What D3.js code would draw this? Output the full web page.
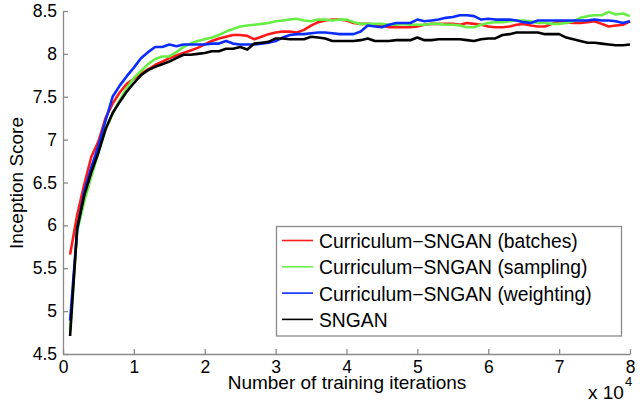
<!DOCTYPE html>
<html>
<head>
<meta charset="utf-8">
<script src="https://cdn.jsdelivr.net/npm/d3@7"></script>
<style>
  body { margin: 0; background: #fff; }
  svg { font-family: "Liberation Sans", Arial, Helvetica, sans-serif; }
</style>
</head>
<body>
<div id="main"></div>
<script>
const ctx = {
    SVG_W: 640,
    SVG_H: 402,
    left: 63, right: 630, top: 11, bottom: 354,
};

// training iterations (x 10^4), one sample every 1000 iterations
const iterations = d3.range(1, 81).map(k => k / 10);

const seriesNames = [
    "Curriculum\u2212SNGAN (batches)",
    "Curriculum\u2212SNGAN (sampling)",
    "Curriculum\u2212SNGAN (weighting)",
    "SNGAN",
];
const seriesColors = ["#ff1a1a", "#66ee44", "#0a2cff", "#000000"];

const batches = [
    5.66, 6.12, 6.48, 6.80, 6.98, 7.25, 7.42, 7.55, 7.65, 7.71,
    7.77, 7.82, 7.87, 7.91, 7.95, 7.98, 8.01, 8.04, 8.07, 8.11,
    8.15, 8.18, 8.20, 8.22, 8.22, 8.21, 8.17, 8.20, 8.23, 8.25,
    8.26, 8.26, 8.25, 8.28, 8.33, 8.37, 8.39, 8.40, 8.40, 8.39,
    8.36, 8.35, 8.35, 8.34, 8.33, 8.31, 8.31, 8.31, 8.31, 8.32,
    8.34, 8.35, 8.35, 8.35, 8.35, 8.34, 8.36, 8.35, 8.34, 8.32,
    8.31, 8.31, 8.32, 8.34, 8.35, 8.33, 8.32, 8.32, 8.35, 8.38,
    8.37, 8.36, 8.36, 8.37, 8.38, 8.35, 8.32, 8.33, 8.34, 8.38,
];
const sampling = [
    4.78, 5.93, 6.28, 6.57, 6.85, 7.12, 7.30, 7.46, 7.60, 7.72,
    7.80, 7.88, 7.94, 7.97, 7.97, 8.02, 8.08, 8.12, 8.15, 8.17,
    8.19, 8.22, 8.26, 8.29, 8.32, 8.33, 8.34, 8.35, 8.36, 8.38,
    8.39, 8.40, 8.41, 8.39, 8.38, 8.40, 8.40, 8.39, 8.40, 8.40,
    8.37, 8.35, 8.35, 8.35, 8.35, 8.34, 8.34, 8.35, 8.34, 8.34,
    8.34, 8.35, 8.35, 8.34, 8.34, 8.33, 8.31, 8.31, 8.34, 8.36,
    8.37, 8.37, 8.38, 8.39, 8.39, 8.38, 8.36, 8.36, 8.35, 8.35,
    8.36, 8.38, 8.42, 8.44, 8.45, 8.45, 8.49, 8.46, 8.47, 8.44,
];
const weighting = [
    4.89, 5.95, 6.40, 6.68, 6.93, 7.22, 7.50, 7.63, 7.74, 7.84,
    7.95, 8.02, 8.08, 8.08, 8.11, 8.09, 8.11, 8.11, 8.11, 8.11,
    8.12, 8.12, 8.15, 8.12, 8.11, 8.11, 8.11, 8.12, 8.13, 8.15,
    8.19, 8.22, 8.23, 8.23, 8.24, 8.25, 8.25, 8.24, 8.23, 8.23,
    8.23, 8.26, 8.33, 8.32, 8.31, 8.34, 8.36, 8.36, 8.36, 8.40,
    8.38, 8.39, 8.40, 8.42, 8.43, 8.45, 8.45, 8.44, 8.40, 8.41,
    8.40, 8.40, 8.40, 8.39, 8.37, 8.36, 8.39, 8.39, 8.39, 8.39,
    8.39, 8.39, 8.39, 8.39, 8.40, 8.39, 8.39, 8.38, 8.36, 8.38,
];
const sngan = [
    4.71, 5.97, 6.35, 6.62, 6.85, 7.12, 7.31, 7.44, 7.56, 7.66,
    7.75, 7.81, 7.85, 7.88, 7.91, 7.95, 7.99, 7.99, 8.00, 8.01,
    8.03, 8.03, 8.06, 8.06, 8.08, 8.05, 8.12, 8.13, 8.14, 8.18,
    8.18, 8.17, 8.17, 8.17, 8.20, 8.19, 8.18, 8.15, 8.15, 8.15,
    8.15, 8.16, 8.18, 8.15, 8.15, 8.15, 8.16, 8.16, 8.16, 8.19,
    8.16, 8.16, 8.17, 8.17, 8.17, 8.17, 8.16, 8.15, 8.17, 8.18,
    8.18, 8.22, 8.23, 8.25, 8.25, 8.25, 8.25, 8.23, 8.23, 8.23,
    8.19, 8.17, 8.15, 8.13, 8.13, 8.12, 8.11, 8.10, 8.10, 8.11,
];
const seriesValues = [batches, sampling, weighting, sngan];

const xTicks = [0, 1, 2, 3, 4, 5, 6, 7, 8];
const yTicks = [4.5, 5, 5.5, 6, 6.5, 7, 7.5, 8, 8.5];

function createViz() {
    let svgEl = d3.select("#main").append("svg")
        .attr("width", ctx.SVG_W)
        .attr("height", ctx.SVG_H);

    let x = d3.scaleLinear().domain([0, 8]).range([ctx.left, ctx.right]);
    let y = d3.scaleLinear().domain([4.5, 8.5]).range([ctx.bottom, ctx.top]);

    // axes, ticks pointing inward like matlab
    let xAxis = svgEl.append("g")
        .attr("transform", "translate(0," + ctx.bottom + ")")
        .call(d3.axisBottom(x).tickValues(xTicks).tickFormat(d3.format("d"))
            .tickSizeInner(-5).tickSizeOuter(0).tickPadding(7));
    let yAxis = svgEl.append("g")
        .attr("transform", "translate(" + ctx.left + ",0)")
        .call(d3.axisLeft(y).tickValues(yTicks).tickFormat(d => String(d))
            .tickSizeInner(-5).tickSizeOuter(0).tickPadding(6));
    [xAxis, yAxis].forEach(function (g) {
        g.selectAll("path, line").attr("stroke", "#8a8a8a").attr("stroke-width", 1.3);
        g.selectAll("text").attr("font-size", 17.5).attr("fill", "#000")
            .attr("font-family", "'Liberation Sans', Arial, sans-serif");
    });

    // curves
    let line = d3.line()
        .x((d, i) => x(iterations[i]))
        .y(d => y(d));
    svgEl.append("g")
        .attr("class", "curves")
        .selectAll("path")
        .data(seriesValues)
        .enter()
        .append("path")
        .attr("d", line)
        .attr("fill", "none")
        .attr("stroke", (d, i) => seriesColors[i])
        .attr("stroke-width", 2.6)
        .attr("stroke-linejoin", "round");

    // axis labels
    svgEl.append("text")
        .attr("x", 347)
        .attr("y", 389)
        .attr("text-anchor", "middle")
        .attr("font-size", 19)
        .text("Number of training iterations");
    svgEl.append("text")
        .attr("transform", "translate(23,183) rotate(-90)")
        .attr("text-anchor", "middle")
        .attr("font-size", 19)
        .text("Inception Score");
    let expo = svgEl.append("text")
        .attr("x", 588)
        .attr("y", 399)
        .attr("font-size", 19);
    expo.append("tspan").text("x 10");
    expo.append("tspan").attr("font-size", 13).attr("dy", -13).attr("dx", 1).text("4");

    // legend
    let leg = svgEl.append("g").attr("class", "legend");
    leg.append("rect")
        .attr("x", 276.5).attr("y", 226.5)
        .attr("width", 345).attr("height", 109.5)
        .attr("fill", "#fff")
        .attr("stroke", "#8a8a8a")
        .attr("stroke-width", 1.3);
    let items = leg.selectAll("g.item")
        .data(seriesNames)
        .enter()
        .append("g")
        .attr("class", "item")
        .attr("transform", (d, i) => "translate(0," + (240.5 + i * 26.3) + ")");
    items.append("line")
        .attr("x1", 282).attr("x2", 313)
        .attr("stroke", (d, i) => seriesColors[i])
        .attr("stroke-width", 1.6);
    items.append("text")
        .attr("x", 319)
        .attr("y", 7.5)
        .attr("font-size", 19.3)
        .text(d => d);
}

createViz();
</script>
</body>
</html>
